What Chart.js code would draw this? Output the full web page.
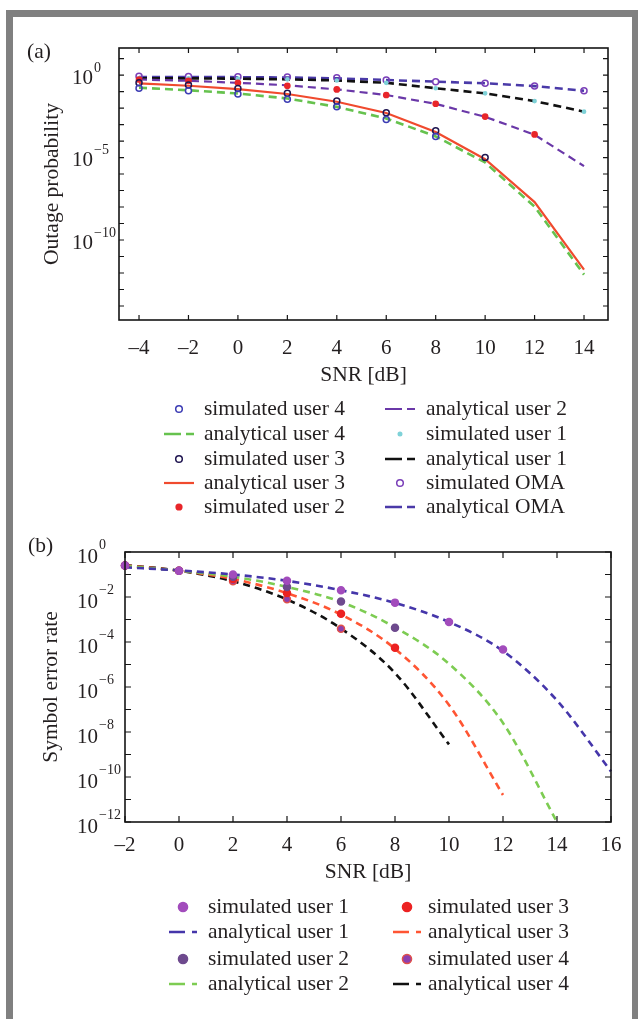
<!DOCTYPE html>
<html>
<head>
<meta charset="utf-8">
<script src="https://cdn.jsdelivr.net/npm/chart.js@4.4.1/dist/chart.umd.min.js"></script>
<style>
  body { margin: 0; background: #fff; width: 638px; height: 1019px; overflow: hidden; position: relative; }
  #frame { position: absolute; left: 6px; top: 10px; width: 619px; height: 1100px; border: 7px solid #808080; }
  canvas { position: absolute; left: 0; }
  #chartA { top: 0; }
  #chartB { top: 520px; }
</style>
</head>
<body>
<div id="frame"></div>
<canvas id="chartA" width="638" height="520"></canvas>
<canvas id="chartB" width="638" height="499"></canvas>
<script>
// ---- (a) outage probability, values are log10 ----
const snrA = [-4, -2, 0, 2, 4, 6, 8, 10, 12, 14];
const xTicksA = [-4, -2, 0, 2, 4, 6, 8, 10, 12, 14];
const yDecadesA = [1, 0, -1, -2, -3, -4, -5, -6, -7, -8, -9, -10, -11, -12, -13, -14];
const yLabelsA = [0, -5, -10];

const simUser4A = [-0.8, -0.95, -1.15, -1.47, -1.92, -2.7, -3.72];
const anaUser4A = [-0.77, -0.92, -1.12, -1.42, -1.93, -2.63, -3.72, -5.3, -7.98, -12.1];
const simUser3A = [-0.46, -0.61, -0.81, -1.11, -1.58, -2.28, -3.37, -5.0];
const anaUser3A = [-0.5, -0.65, -0.85, -1.15, -1.62, -2.3, -3.45, -5.1, -7.7, -11.8];
const simUser2A = [-0.27, -0.35, -0.47, -0.65, -0.87, -1.21, -1.74, -2.52, -3.6];
const anaUser2A = [-0.27, -0.35, -0.47, -0.62, -0.87, -1.21, -1.75, -2.53, -3.62, -5.52];
const simUser1A = [-0.2, -0.2, -0.22, -0.26, -0.33, -0.47, -0.8, -1.11, -1.58, -2.22];
const anaUser1A = [-0.2, -0.2, -0.22, -0.26, -0.33, -0.47, -0.8, -1.11, -1.58, -2.22];
const simOmaA = [-0.08, -0.09, -0.1, -0.12, -0.17, -0.3, -0.4, -0.5, -0.67, -0.95];
const anaOmaA = [-0.12, -0.12, -0.13, -0.15, -0.2, -0.3, -0.4, -0.5, -0.67, -0.95];

// ---- (b) symbol error rate, log10 values ----
const snrB = [-2, 0, 2, 4, 6, 8, 10, 12, 14, 16];
const xTicksB = [-2, 0, 2, 4, 6, 8, 10, 12, 14, 16];
const yDecadesB = [0, -1, -2, -3, -4, -5, -6, -7, -8, -9, -10, -11, -12];
const yLabelsB = [0, -2, -4, -6, -8, -10, -12];

const simUser1B = [-0.6, -0.83, -1.0, -1.28, -1.7, -2.25, -3.11, -4.33];
const anaUser1B = [-0.68, -0.82, -1.0, -1.28, -1.7, -2.26, -3.11, -4.4, -6.6, -9.75];
const simUser2B = [-0.6, -0.83, -1.1, -1.55, -2.2, -3.37];
const anaUser2B = [-0.62, -0.83, -1.1, -1.55, -2.22, -3.35, -4.97, -7.6, -12.0];
const simUser3B = [-0.6, -0.83, -1.2, -1.82, -2.74, -4.26];
const anaUser3B = [-0.6, -0.83, -1.2, -1.83, -2.78, -4.3, -6.8, -10.8];
const simUser4B = [-0.6, -0.83, -1.3, -2.1, -3.41];
const anaUser4B = [-0.58, -0.83, -1.3, -2.11, -3.4, -5.38, -8.55];

const textColor = '#231f20';
const serif = '"Liberation Serif", "Times New Roman", serif';
Chart.defaults.font.family = serif;
Chart.defaults.color = textColor;

function pts(xs, logs) {
  return logs.map((e, i) => ({ x: xs[i], y: Math.pow(10, e) }));
}

function sim(label, xs, logs, color, fill, r) {
  return {
    label: label, data: pts(xs, logs), showLine: false, order: 0, clip: false,
    pointRadius: r, pointBorderWidth: 1.5,
    pointBorderColor: color, pointBackgroundColor: fill,
    borderColor: color, backgroundColor: fill
  };
}

function ana(label, xs, logs, color, dash, width, smooth) {
  return {
    label: label, data: pts(xs, logs), showLine: true, order: 1, clip: false,
    borderColor: color, backgroundColor: color, borderWidth: width,
    borderDash: dash, pointRadius: 0, tension: 0,
    cubicInterpolationMode: smooth ? 'monotone' : 'default'
  };
}

function negLabel(v) {
  return v < 0 ? '\u2013' + (-v) : String(v);
}

// box, inward ticks, 10^n labels, panel letter and 2-column legend
const paperDecor = {
  id: 'paperDecor',
  afterDraw(chart, args, o) {
    const ctx = chart.ctx;
    const a = chart.chartArea;
    const xs = chart.scales.x, ys = chart.scales.y;
    ctx.save();
    ctx.strokeStyle = '#151515';
    ctx.lineWidth = 1.2;
    ctx.beginPath();
    xs.ticks.forEach(t => {
      const px = xs.getPixelForValue(t.value);
      ctx.moveTo(px, a.bottom); ctx.lineTo(px, a.bottom - o.tickLen);
      ctx.moveTo(px, a.top); ctx.lineTo(px, a.top + o.tickLen);
    });
    ys.ticks.forEach(t => {
      const py = ys.getPixelForValue(t.value);
      ctx.moveTo(a.left, py); ctx.lineTo(a.left + o.tickLen, py);
      ctx.moveTo(a.right, py); ctx.lineTo(a.right - o.tickLen, py);
    });
    ctx.stroke();
    ctx.lineWidth = 1.6;
    ctx.strokeRect(a.left, a.top, a.right - a.left, a.bottom - a.top);

    ctx.fillStyle = textColor;
    ctx.textAlign = 'left';
    ctx.textBaseline = 'middle';
    o.yLabels.forEach(e => {
      const py = ys.getPixelForValue(Math.pow(10, e)) + o.baseDy;
      ctx.font = o.baseFont;
      ctx.fillText('10', o.labelX, py);
      const w = ctx.measureText('10').width;
      ctx.font = o.expFont;
      ctx.fillText(e < 0 ? '\u2212' + (-e) : String(e), o.labelX + w + 1, py + o.expDy);
    });

    ctx.font = '21.5px ' + serif;
    ctx.fillText(o.panel, o.panelX, o.panelY);

    // legend, column-major
    const ds = chart.data.datasets;
    const half = Math.ceil(ds.length / 2);
    const L = o.legend;
    ds.forEach((d, i) => {
      const col = i < half ? 0 : 1;
      const row = i < half ? i : i - half;
      const y = L.rows[row];
      const sx = L.symbolX[col];
      if (d.showLine === false) {
        ctx.beginPath();
        ctx.arc(sx + L.symbolW / 2, y, d.pointRadius * L.pointScale, 0, Math.PI * 2);
        ctx.fillStyle = d.pointBackgroundColor;
        ctx.fill();
        ctx.lineWidth = d.pointBorderWidth;
        ctx.strokeStyle = d.pointBorderColor;
        ctx.stroke();
      } else {
        ctx.beginPath();
        ctx.setLineDash(d.borderDash && d.borderDash.length ? L.dash : []);
        ctx.moveTo(sx, y); ctx.lineTo(sx + L.symbolW, y);
        ctx.lineWidth = d.borderWidth;
        ctx.strokeStyle = d.borderColor;
        ctx.stroke();
        ctx.setLineDash([]);
      }
      ctx.fillStyle = textColor;
      ctx.font = '21.5px ' + serif;
      ctx.fillText(d.label, L.textX[col], y);
    });
    ctx.restore();
  }
};

const dashA = [8, 5];
const dashB = [7, 5];

const chartA = new Chart(document.getElementById('chartA'), {
  type: 'scatter',
  data: {
    datasets: [
      sim('simulated user 4', snrA, simUser4A, '#3c3cb4', 'rgba(255,255,255,0)', 3),
      ana('analytical user 4', snrA, anaUser4A, '#66c24e', dashA, 2.6, false),
      sim('simulated user 3', snrA, simUser3A, '#1f1550', 'rgba(255,255,255,0)', 3),
      ana('analytical user 3', snrA, anaUser3A, '#f04a2e', [], 2.2, false),
      sim('simulated user 2', snrA, simUser2A, '#e8262a', '#e8262a', 2.6),
      ana('analytical user 2', snrA, anaUser2A, '#6a38a8', dashA, 2.2, false),
      sim('simulated user 1', snrA, simUser1A, '#7fd2d8', '#7fd2d8', 1.6),
      ana('analytical user 1', snrA, anaUser1A, '#111111', dashA, 2.6, false),
      sim('simulated OMA', snrA, simOmaA, '#7a3fb8', 'rgba(255,255,255,0)', 3),
      ana('analytical OMA', snrA, anaOmaA, '#4a3aa8', dashA, 2.6, false)
    ]
  },
  options: {
    responsive: false,
    animation: false,
    layout: { padding: { left: 0, top: 48, right: 30, bottom: 132 } },
    plugins: {
      legend: { display: false },
      tooltip: { enabled: false },
      paperDecor: {
        tickLen: 5, labelX: 72, baseDy: 3, expDy: -10,
        baseFont: '21px ' + serif, expFont: '14px ' + serif,
        yLabels: yLabelsA, panel: '(a)', panelX: 27, panelY: 52,
        legend: { rows: [409, 434, 459, 483, 507], symbolX: [164, 385], symbolW: 30,
                  textX: [204, 426], dash: [17, 5], pointScale: 1.1 }
      }
    },
    scales: {
      x: {
        type: 'linear', min: -4.81, max: 14.97,
        grid: { display: false }, border: { display: false },
        afterBuildTicks: s => { s.ticks = xTicksA.map(v => ({ value: v })); },
        afterFit: s => { s.height = 68; },
        ticks: { autoSkip: false, maxRotation: 0, padding: 8, color: textColor,
                 font: { size: 21 }, callback: v => negLabel(v) },
        title: { display: true, text: 'SNR [dB]', color: textColor, font: { size: 21.5 },
                 padding: { top: 0, bottom: 0 } }
      },
      y: {
        type: 'logarithmic', min: Math.pow(10, -14.85), max: Math.pow(10, 1.64),
        grid: { display: false }, border: { display: false },
        afterBuildTicks: s => { s.ticks = yDecadesA.map(e => ({ value: Math.pow(10, e) })); },
        afterFit: s => { s.width = 119; },
        ticks: { callback: () => '' },
        title: { display: true, text: 'Outage probability', color: textColor, font: { size: 21.5 },
                 padding: { top: 39, bottom: 0 } }
      }
    }
  },
  plugins: [paperDecor]
});

const chartB = new Chart(document.getElementById('chartB'), {
  type: 'scatter',
  data: {
    datasets: [
      sim('simulated user 1', snrB, simUser1B, '#a24cbc', '#a24cbc', 3.5),
      ana('analytical user 1', snrB, anaUser1B, '#4536aa', dashB, 2.6, true),
      sim('simulated user 2', snrB, simUser2B, '#6e4a8e', '#6e4a8e', 3.5),
      ana('analytical user 2', snrB, anaUser2B, '#7dcc52', dashB, 2.6, true),
      sim('simulated user 3', snrB, simUser3B, '#ec2222', '#ec2222', 3.5),
      ana('analytical user 3', snrB, anaUser3B, '#ff5533', dashB, 2.6, true),
      sim('simulated user 4', snrB, simUser4B, '#e0504a', '#8c3fb0', 3.5),
      ana('analytical user 4', snrB, anaUser4B, '#111111', dashB, 2.6, true)
    ]
  },
  options: {
    responsive: false,
    animation: false,
    layout: { padding: { left: 0, top: 32, right: 27, bottom: 134 } },
    plugins: {
      legend: { display: false },
      tooltip: { enabled: false },
      paperDecor: {
        tickLen: 6, labelX: 77, baseDy: 5, expDy: -12,
        baseFont: '21px ' + serif, expFont: '14px ' + serif,
        yLabels: yLabelsB, panel: '(b)', panelX: 28, panelY: 26,
        legend: { rows: [387, 412, 439, 464], symbolX: [169, 393], symbolW: 28,
                  textX: [208, 428], dash: [16, 7], pointScale: 1.3 }
      }
    },
    scales: {
      x: {
        type: 'linear', min: -2, max: 16,
        grid: { display: false }, border: { display: false },
        afterBuildTicks: s => { s.ticks = xTicksB.map(v => ({ value: v })); },
        afterFit: s => { s.height = 63; },
        ticks: { autoSkip: false, maxRotation: 0, padding: 3, color: textColor,
                 font: { size: 21 }, callback: v => negLabel(v) },
        title: { display: true, text: 'SNR [dB]', color: textColor, font: { size: 21.5 },
                 padding: { top: 0, bottom: 0 } }
      },
      y: {
        type: 'logarithmic', min: 1e-12, max: 1,
        grid: { display: false }, border: { display: false },
        afterBuildTicks: s => { s.ticks = yDecadesB.map(e => ({ value: Math.pow(10, e) })); },
        afterFit: s => { s.width = 125; },
        ticks: { callback: () => '' },
        title: { display: true, text: 'Symbol error rate', color: textColor, font: { size: 21.5 },
                 padding: { top: 38, bottom: 0 } }
      }
    }
  },
  plugins: [paperDecor]
});
</script>
</body>
</html>
